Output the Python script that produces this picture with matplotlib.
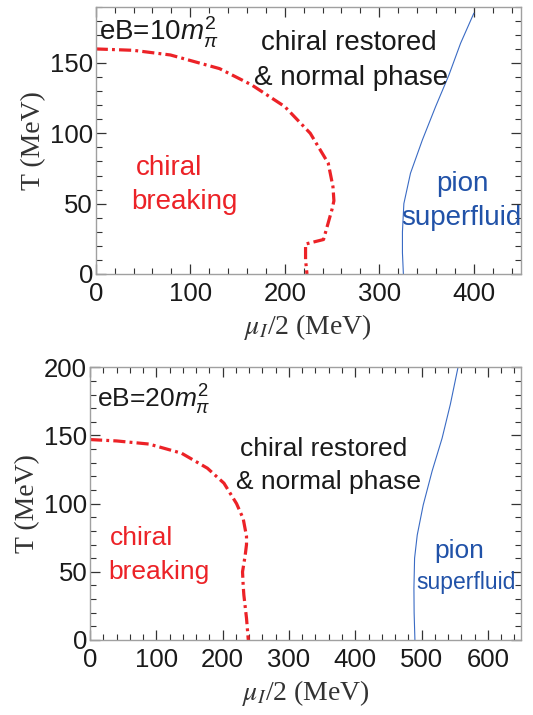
import numpy as np
import matplotlib
matplotlib.use('Agg')
import matplotlib.pyplot as plt
from matplotlib.ticker import MultipleLocator

plt.rcParams['font.family'] = ['Liberation Sans', 'DejaVu Sans']
plt.rcParams['mathtext.fontset'] = 'custom'
plt.rcParams['mathtext.rm'] = 'Liberation Sans'
plt.rcParams['mathtext.it'] = 'Liberation Sans:italic'

# eB = 10 m_pi^2 : chiral transition (red) and pion superfluid boundary (blue)
mu_chiral_10 = [0, 40, 79, 131, 165, 200, 227, 246, 251, 252, 250, 241, 222, 222, 223.5]
T_chiral_10 = [160, 159, 155.7, 146, 134.4, 119, 100, 78.7, 62, 52, 46, 24.5, 21.3, 10, 0]
mu_pion_10 = [325.5, 324.5, 324.5, 326, 333, 345.6, 359.6, 373.7, 386, 400]
T_pion_10 = [0, 15, 30, 50, 71.6, 95.3, 119, 141.5, 164, 185.3]

# eB = 20 m_pi^2
mu_chiral_20 = [0, 40, 89, 138, 177, 202, 221, 231, 236, 236, 234, 230, 231, 232, 236, 238.7]
T_chiral_20 = [147, 146, 143.7, 137, 126, 115, 100, 89, 76, 70, 62, 50, 40, 33, 16, 0]
mu_pion_20 = [490, 488.8, 488.5, 489.5, 493.5, 502.5, 516, 531, 543.5, 555]
T_pion_20 = [0, 20, 38, 60, 77, 99, 124, 148, 173, 200]

red = '#ec2227'
blue = '#3a6bc4'
blue_txt = '#2152a8'
spine_col = '#a0a0a0'
dashdot = (0, (3.8, 1.3, 0.9, 1.3))

fig = plt.figure(figsize=(5.33, 7.15), dpi=100)
ax1 = fig.add_axes([0.1796, 0.6168, 0.798, 0.3738])
ax2 = fig.add_axes([0.1689, 0.1049, 0.8086, 0.3814])


def style_axis(ax, xmax, ymax):
    ax.set_xlim(0, xmax)
    ax.set_ylim(0, ymax)
    ax.xaxis.set_major_locator(MultipleLocator(100))
    ax.xaxis.set_minor_locator(MultipleLocator(20))
    ax.yaxis.set_major_locator(MultipleLocator(50))
    ax.yaxis.set_minor_locator(MultipleLocator(10))
    ax.tick_params(which='both', direction='in', top=True, right=True,
                   color='#333333', labelsize=18.5, labelcolor='#1a1a1a')
    ax.tick_params(axis='x', pad=6)
    ax.tick_params(axis='y', pad=2)
    ax.tick_params(which='major', length=7, width=0.9)
    ax.tick_params(which='minor', length=4, width=0.8)
    for s in ax.spines.values():
        s.set_color(spine_col)
        s.set_linewidth(1.0)
    ax.set_xlabel(r'$\mu_I$/2 (MeV)', fontsize=20, family='Liberation Serif',
                  math_fontfamily='stix', color='#333333', labelpad=4)
    ax.set_ylabel('T (MeV)', fontsize=20, family='Liberation Serif',
                  color='#333333', labelpad=3)


style_axis(ax1, 450, 190)
ax1.plot(mu_chiral_10, T_chiral_10, color=red, lw=2.3, linestyle=dashdot)
ax1.plot(mu_pion_10, T_pion_10, color=blue, lw=0.8)
ax1.text(3, 172, r'eB=10$m_\pi^2$', fontsize=20, va='center', ha='left', color='#1a1a1a')
ax1.text(268, 164, 'chiral restored', fontsize=20, ha='center', va='center', color='#1a1a1a')
ax1.text(270, 139, '& normal phase', fontsize=20, ha='center', va='center', color='#1a1a1a')
ax1.text(78, 75, 'chiral', fontsize=20, ha='center', va='center', color=red)
ax1.text(94, 51, 'breaking', fontsize=20, ha='center', va='center', color=red)
ax1.text(388, 64, 'pion', fontsize=20, ha='center', va='center', color=blue_txt)
ax1.text(323, 40, 'superfluid', fontsize=20, ha='left', va='center',
         color=blue_txt, clip_on=True)

style_axis(ax2, 650, 200)
ax2.plot(mu_chiral_20, T_chiral_20, color=red, lw=2.3, linestyle=dashdot)
ax2.plot(mu_pion_20, T_pion_20, color=blue, lw=0.8)
ax2.text(11, 176, r'eB=20$m_\pi^2$', fontsize=19, va='center', ha='left', color='#1a1a1a')
ax2.text(352, 140, 'chiral restored', fontsize=19, ha='center', va='center', color='#1a1a1a')
ax2.text(359, 116, '& normal phase', fontsize=19, ha='center', va='center', color='#1a1a1a')
ax2.text(78, 75, 'chiral', fontsize=19, ha='center', va='center', color=red)
ax2.text(104, 50, 'breaking', fontsize=19, ha='center', va='center', color=red)
ax2.text(557, 65, 'pion', fontsize=19, ha='center', va='center', color=blue_txt)
ax2.text(567, 42, 'superfluid', fontsize=16.5, ha='center', va='center', color=blue_txt)

fig.savefig('out.png', dpi=100)
